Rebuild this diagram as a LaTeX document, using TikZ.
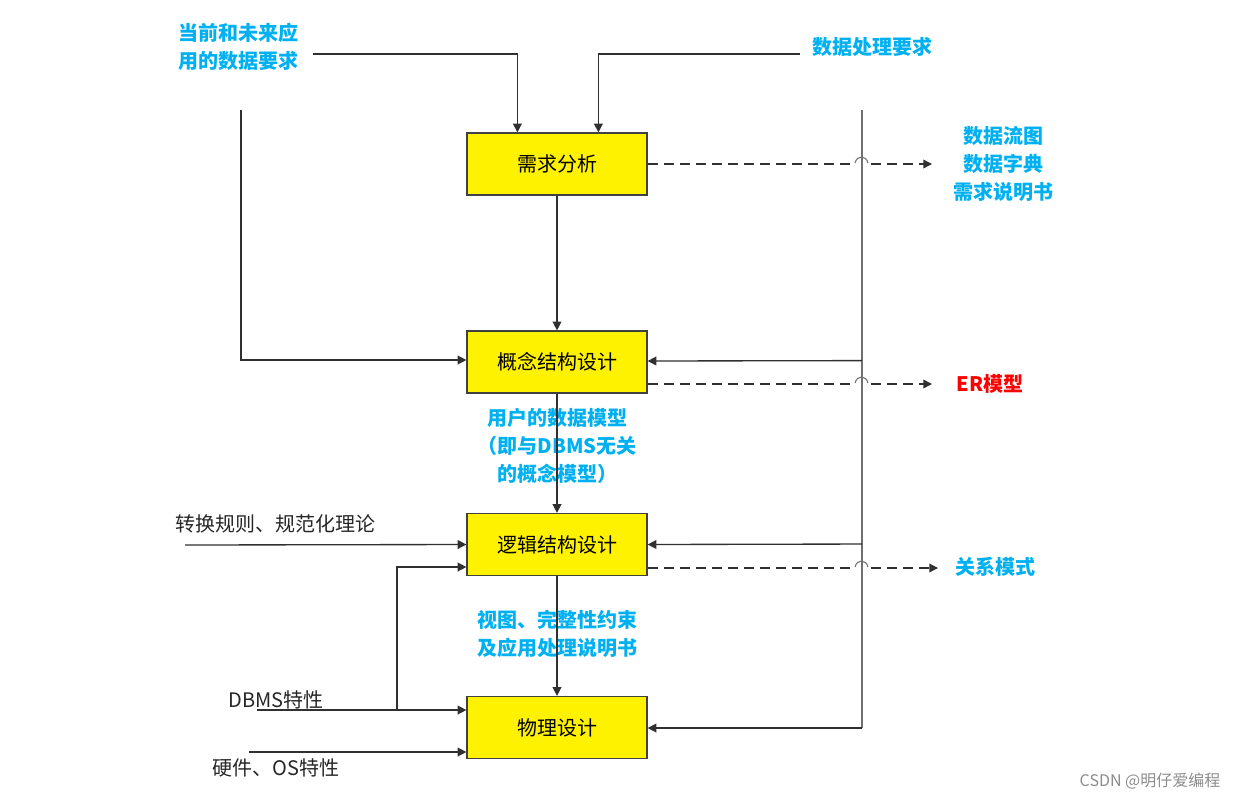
\documentclass[tikz,border=0pt]{standalone}
\usepackage{fontspec}
\setmainfont{Noto Sans CJK SC}
\usetikzlibrary{arrows.meta,calc}
\definecolor{lblue}{HTML}{00B0F0}
\definecolor{ln}{HTML}{303030}
\definecolor{busc}{HTML}{707070}
\begin{document}
\begin{tikzpicture}[x=0.75pt,y=-0.75pt,
  box/.style={draw=black!75,line width=0.9pt,fill=yellow,minimum width=135pt,minimum height=46.5pt,inner sep=0pt,font=\fontsize{15pt}{18pt}\selectfont},
  arr/.style={-{Triangle[length=6.5pt,width=6.5pt]}},
  conn/.style={draw=ln,line width=1pt},
  bus/.style={draw=busc,line width=1.1pt},
  dsh/.style={draw=ln,line width=1pt,dash pattern=on 7.5pt off 4.5pt},
  hop/.style={draw=busc,line width=0.8pt},
  bl/.style={text=lblue,font=\fontsize{15pt}{21pt}\selectfont\bfseries,align=center,inner sep=0pt},
  blk/.style={text=black!85,font=\fontsize{15pt}{21pt}\selectfont,align=center,inner sep=0pt}]
\useasboundingbox (0,0) rectangle (1249,801);

% boxes
\node[box] (req) at (557,164) {需求分析};
\node[box] (con) at (557,362) {概念结构设计};
\node[box] (log) at (557,544.5) {逻辑结构设计};
\node[box] (phy) at (557,727.5) {物理设计};

% labels
\node[bl] (lt) at (238,47) {当前和未来应\\用的数据要求};
\node[bl] (lp) at (872,47) {数据处理要求};
\node[bl] (lr1) at (1003,164) {数据流图\\数据字典\\需求说明书};
\node[text=red,font=\fontsize{15pt}{21pt}\selectfont\bfseries,inner sep=0pt] (ler) at (990,384) {ER模型};
\node[bl] (lrel) at (995,567) {关系模式};
\node[bl] (lm1) at (557,446) {用户的数据模型\\（即与DBMS无关\\的概念模型）};
\node[bl] (lm2) at (557,634) {视图、完整性约束\\及应用处理说明书};
\node[blk] (lconv) at (275.5,524) {转换规则、规范化理论};
\node[blk] (ldbms) at (276,700) {DBMS特性};
\node[blk] (lhw) at (276,768) {硬件、OS特性};
\node[text=black!45,font=\fontsize{12pt}{14pt}\selectfont,inner sep=0pt] (wm) at (1150,781) {CSDN @明仔爱编程};

% coordinates
\coordinate (t1) at (313,54);
\coordinate (t2) at (800,54);
\coordinate (lv) at (241,110);
\coordinate (busT) at (862,110);
\coordinate (busB) at (862,728);
\coordinate (cvs) at (185,545);
\coordinate (dbs) at (257,710);
\coordinate (hws) at (249,752);
\coordinate (br) at (397,710);

% top inputs
\draw[conn,arr] (t1) -| ($(req.north west)+(51,0)$);
\draw[conn,arr] (t2) -| ($(req.north west)+(132,0)$);
\draw[conn,arr] (lv) |- ($(con.west)+(0,-2)$);

% main flow
\draw[conn,arr] (req) -- (con);
\draw[conn,arr] (con) -- (log);
\draw[conn,arr] (log) -- (phy);

% right bus
\draw[bus] (busT) -- (busB);
\draw[conn,arr] (busB) -- ($(phy.east)+(0,0.5)$);
\draw[conn,arr] ($(busT)!0.4055!(busB)$) -- ($(con.east)+(0,-1)$);
\draw[conn,arr] ($(busT)!0.7023!(busB)$) -- (log.east);

% left inputs
\draw[conn,arr] (cvs) -- (log.west);
\draw[conn,arr] (dbs) -- ($(phy.west)+(0,-17.5)$);
\draw[conn,arr] (br) |- ($(log.west)+(0,22.5)$);
\draw[conn,arr] (hws) -- ($(phy.west)+(0,24.5)$);

% dashed outputs with hops
\coordinate (h1) at (854,164);
\coordinate (h2) at (854,384);
\coordinate (h3) at (854,568);
\draw[dsh] (req.east) -- (h1);
\draw[dsh] ($(con.east)+(0,22)$) -- (h2);
\draw[dsh] ($(log.east)+(0,23.5)$) -- (h3);
\foreach \yy in {164,384,568}{
  \draw[hop] (855,\yy-1) .. controls (857,\yy-9) and (866,\yy-9) .. (868,\yy-1);
}
\coordinate (o1) at (932,164);
\coordinate (o2) at (932,384);
\coordinate (o3) at (938,568);
\draw[dsh,arr] (871,164) -- (o1);
\draw[dsh,arr] (871,384) -- (o2);
\draw[dsh,arr] (871,568) -- (o3);
\end{tikzpicture}
\end{document}
